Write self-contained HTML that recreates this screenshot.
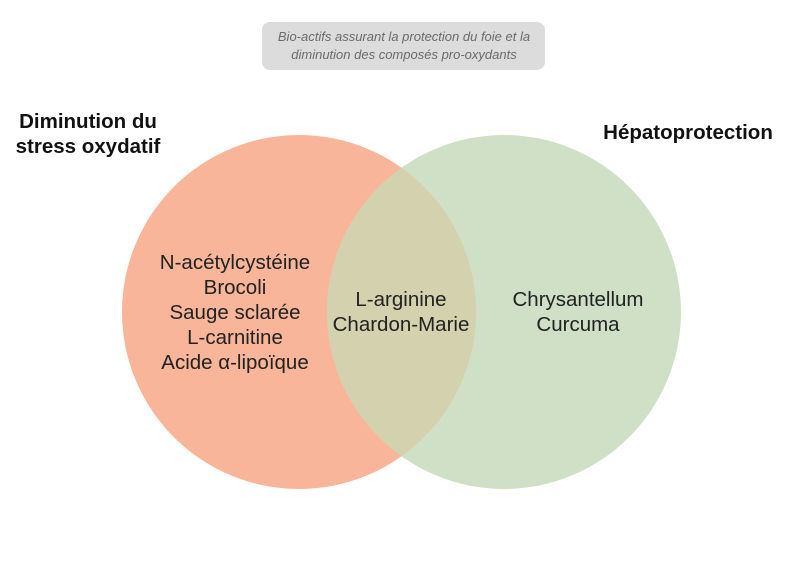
<!DOCTYPE html>
<html><head><style>
body{margin:0;background:#fff;width:800px;height:566px;overflow:hidden;font-family:"Liberation Sans",sans-serif}
</style></head><body>
<svg width="800" height="566" xmlns="http://www.w3.org/2000/svg">
<defs><clipPath id="c"><circle cx="299" cy="312" r="177"/></clipPath></defs>
<rect x="262" y="22" width="283" height="48" rx="8" fill="#dcdcdc"/>
<g font-family="Liberation Sans, sans-serif" font-style="italic" font-size="13" fill="#6a6a6a" text-anchor="middle">
<text x="404" y="41">Bio-actifs assurant la protection du foie et la</text>
<text x="404" y="59">diminution des composés pro-oxydants</text>
</g>
<circle cx="299" cy="312" r="177" fill="#f8b599"/>
<circle cx="504" cy="312" r="177" fill="#cfe0c6"/>
<circle cx="504" cy="312" r="177" fill="#d3d1ae" clip-path="url(#c)"/>
<g font-family="Liberation Sans, sans-serif" font-weight="bold" font-size="20.5" fill="#111" text-anchor="middle">
<text x="88" y="128">Diminution du</text>
<text x="88" y="153">stress oxydatif</text>
<text x="688" y="139">Hépatoprotection</text>
</g>
<g font-family="Liberation Sans, sans-serif" font-size="20.5" fill="#222" text-anchor="middle">
<text x="235" y="269">N-acétylcystéine</text>
<text x="235" y="294">Brocoli</text>
<text x="235" y="319">Sauge sclarée</text>
<text x="235" y="344">L-carnitine</text>
<text x="235" y="369">Acide α-lipoïque</text>
<text x="401" y="306">L-arginine</text>
<text x="401" y="331">Chardon-Marie</text>
<text x="578" y="306">Chrysantellum</text>
<text x="578" y="331">Curcuma</text>
</g>
</svg>
</body></html>
